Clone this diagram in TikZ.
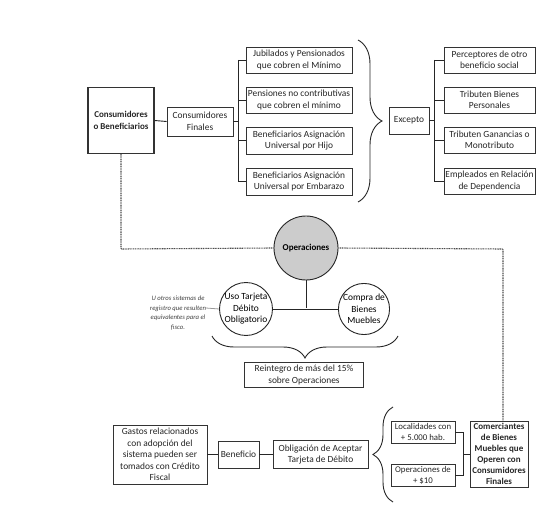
\documentclass[tikz,border=0pt]{standalone}
\usepackage{fontspec}
\setmainfont{Carlito}
\usetikzlibrary{decorations.pathreplacing,calc}
\begin{document}
\begin{tikzpicture}[x=1pt,y=-1pt,
  box/.style={draw=black!80,line width=0.8pt,fill=white,align=center,inner sep=0.5pt,font=\fontsize{9.4}{11.5}\selectfont,text=black!85},
  conn/.style={draw=black!85,line width=0.9pt},
  dots/.style={draw=black!70,line width=1.1pt,dash pattern=on 1pt off 0.7pt},
  brc/.style={draw=black!85,line width=0.9pt,decorate},
  circ/.style={circle,draw=black!85,line width=0.9pt,fill=white,align=center,inner sep=0pt,font=\fontsize{9.4}{11.5}\selectfont}
]
\useasboundingbox (0,0) rectangle (552,505);
% top left
\node[box,minimum width=66pt,minimum height=66pt,line width=1.1pt,font=\bfseries\fontsize{9}{12}\selectfont] (cb) at (121,120.5) {Consumidores\\o Beneficiarios};
\node[box,minimum width=66pt,minimum height=29pt] (cf) at (200,121.5) {Consumidores\\Finales};
\node[box,minimum width=106pt,minimum height=26pt] (j1) at (299,60) {Jubilados y Pensionados\\que cobren el Mínimo};
\node[box,minimum width=106pt,minimum height=26pt] (j2) at (299,100) {Pensiones no contributivas\\que cobren el mínimo};
\node[box,minimum width=106pt,minimum height=27pt] (j3) at (299,140.5) {Beneficiarios Asignación\\Universal por Hijo};
\node[box,minimum width=106pt,minimum height=27pt] (j4) at (299,181.5) {Beneficiarios Asignación\\Universal por Embarazo};
\coordinate (b1) at (238,121.5);
\draw[conn] (cb.east) -- (cf.west);
\draw[conn] (cf.east) -- (b1);
\draw[conn] (b1 |- j1.west) -- (b1 |- j4.west);
\foreach \n in {j1,j2,j3,j4} \draw[conn] (b1 |- \n.west) -- (\n.west);
\coordinate (br1a) at (358,40);
\coordinate (br1b) at (358,202);
\draw[brc,decoration={brace,amplitude=24pt}] (br1a) -- (br1b);
\node[box,minimum width=40pt,minimum height=27pt] (ex) at (409,120.5) {Excepto};
\node[box,minimum width=91pt,minimum height=26pt] (e1) at (489.5,60) {Perceptores de otro\\beneficio social};
\node[box,minimum width=91pt,minimum height=26pt] (e2) at (489.5,100) {Tributen Bienes\\Personales};
\node[box,minimum width=91pt,minimum height=26pt] (e3) at (489.5,140) {Tributen Ganancias o\\Monotributo};
\node[box,minimum width=91pt,minimum height=26pt] (e4) at (489.5,181) {Empleados en Relación\\de Dependencia};
\coordinate (b2) at (434,120.5);
\draw[conn] (ex.east) -- (b2);
\draw[conn] (b2 |- e1.west) -- (b2 |- e4.west);
\foreach \n in {e1,e2,e3,e4} \draw[conn] (b2 |- \n.west) -- (\n.west);
% operaciones
\node[circ,minimum size=64pt,fill=black!20,font=\bfseries\fontsize{9}{11}\selectfont] (op) at (306,248) {Operaciones};
\node[circ,minimum size=48pt] (uso) at (246,309) {Uso Tarjeta\\Débito\\Obligatorio};
\node[circ,minimum size=50pt] (comp) at (364,309) {Compra de\\Bienes\\Muebles};
\coordinate (jn) at (306,308);
\draw[conn] (op.south) -- (jn);
\draw[conn] (uso.east) -- (comp.west);
\node[align=center,font=\itshape\fontsize{6.7}{9.5}\selectfont,text=black!75,inner sep=0pt] (otros) at (178,313) {U otros sistemas de\\registro que resulten\\equivalentes para el\\fisco.};
\draw[draw=black!40,line width=0.8pt] (206,308) -- (uso.west);
\draw[brc,decoration={brace,mirror,amplitude=22pt}] (212,336) -- (398,336);
\node[box,minimum width=119pt,minimum height=25pt] (re) at (304,375) {Reintegro de más del 15\%\\sobre Operaciones};
% dotted
\coordinate (d1) at (121,249);
\coordinate (d2) at (503,249);
\node[box,minimum width=58pt,minimum height=66pt,font=\bfseries\fontsize{9}{11}\selectfont] (com) at (499,454) {Comerciantes\\de Bienes\\Muebles que\\Operen con\\Consumidores\\Finales};
\draw[dots] (cb.south) -- (d1) -- (op.west);
\draw[dots] (op.east) -- (d2) -- (d2 |- com.north);
% bottom
\node[box,minimum width=94pt,minimum height=59pt] (ga) at (160,454.5) {Gastos relacionados\\con adopción del\\sistema pueden ser\\tomados con Crédito\\Fiscal};
\node[box,minimum width=41pt,minimum height=27pt] (be) at (238.5,454.5) {Beneficio};
\node[box,minimum width=95pt,minimum height=28pt] (ob) at (320.5,454.5) {Obligación de Aceptar\\Tarjeta de Débito};
\draw[conn] (ga.east) -- (be.west);
\draw[conn] (be.east) -- (ob.west);
\draw[brc,decoration={brace,amplitude=20pt}] (393,502) -- (393,407);
\node[box,minimum width=64pt,minimum height=22pt,font=\fontsize{8.8}{11}\selectfont] (lo) at (423,432) {Localidades con\\+ 5.000 hab.};
\node[box,minimum width=64pt,minimum height=22pt,font=\fontsize{8.8}{11}\selectfont] (o10) at (423,475) {Operaciones de\\+ \$10};
\coordinate (b3) at (463,454);
\draw[conn] (lo.east) -- (b3 |- lo.east) -- (b3 |- o10.east) -- (o10.east);
\draw[conn] (b3) -- (com.west);
\end{tikzpicture}
\end{document}
